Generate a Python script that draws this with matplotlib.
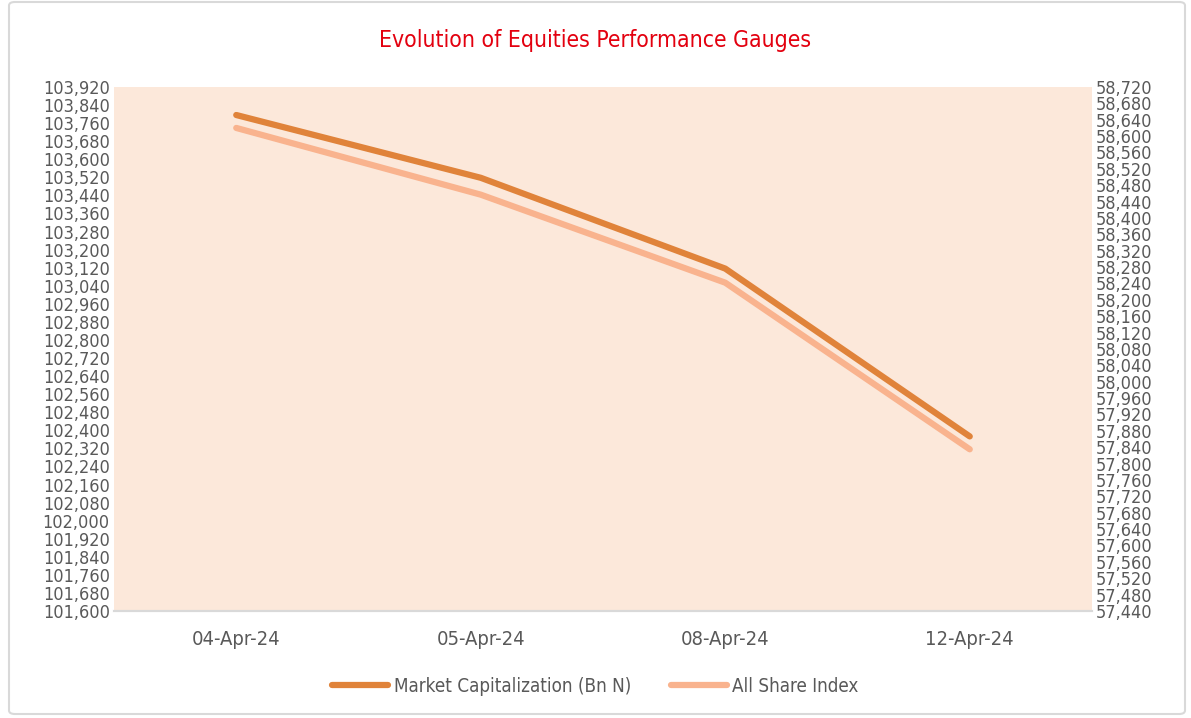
import matplotlib
matplotlib.use("Agg")
import matplotlib.pyplot as plt
from matplotlib.ticker import MultipleLocator, FuncFormatter
from matplotlib.patches import FancyBboxPatch

dates = ["04-Apr-24", "05-Apr-24", "08-Apr-24", "12-Apr-24"]
market_cap = [103796, 103518, 103116, 102373]
asi = [58620, 58457, 58242, 57835]

plt.rcParams["font.family"] = ["DejaVu Sans"]
plt.rcParams["font.stretch"] = "condensed"

fig = plt.figure(figsize=(11.91, 7.18), dpi=100)
fig.patch.set_facecolor("white")
border = FancyBboxPatch((9/1191, 4/718), 1176/1191, 712/718, boxstyle="round,pad=0,rounding_size=0.005",
                        transform=fig.transFigure, fill=False, edgecolor="#d9d9d9", linewidth=1.5)
fig.patches.append(border)

ax = fig.add_axes([114/1191, 1-611/718, 978/1191, 524/718])
ax.set_facecolor("#FCE8DA")
x = [i + 0.5 for i in range(len(dates))]
l1, = ax.plot(x, market_cap, color="#E0833A", lw=4.5, solid_capstyle="round", zorder=3)
ax.set_xlim(0, 4)
ax.set_ylim(101600, 103920)
ax.yaxis.set_major_locator(MultipleLocator(80))
ax.yaxis.set_major_formatter(FuncFormatter(lambda v, p: f"{v:,.0f}"))
ax.set_xticks(x)
ax.set_xticklabels(dates)

ax2 = ax.twinx()
l2, = ax2.plot(x, asi, color="#F9B38E", lw=4.5, solid_capstyle="round", zorder=2)
ax2.set_ylim(57440, 58720)
ax2.yaxis.set_major_locator(MultipleLocator(40))
ax2.yaxis.set_major_formatter(FuncFormatter(lambda v, p: f"{v:,.0f}"))
ax.set_zorder(0); ax2.set_zorder(1)
ax2.patch.set_visible(False)

for a in (ax, ax2):
    for s in ("top", "left", "right"):
        a.spines[s].set_visible(False)
    a.spines["bottom"].set_color("#d9d9d9")
    a.spines["bottom"].set_linewidth(1.5)
    a.tick_params(length=0, labelsize=13, colors="#595959")
ax.tick_params(axis="y", pad=3)
ax2.tick_params(axis="y", pad=3)
ax.tick_params(axis="x", pad=14, labelsize=14.5)

fig.text(0.5, 1-40/718, "Evolution of Equities Performance Gauges", color="#E3000F",
         fontsize=16.5, ha="center", va="center")

fig.legend([l1, l2], ["Market Capitalization (Bn N)", "All Share Index"], loc="center",
           bbox_to_anchor=(0.5, 1-686/718), ncol=2, frameon=False, fontsize=13.5,
           labelcolor="#595959", handlelength=3, columnspacing=2.1, handletextpad=0.3)

fig.savefig("out.png", dpi=100)
